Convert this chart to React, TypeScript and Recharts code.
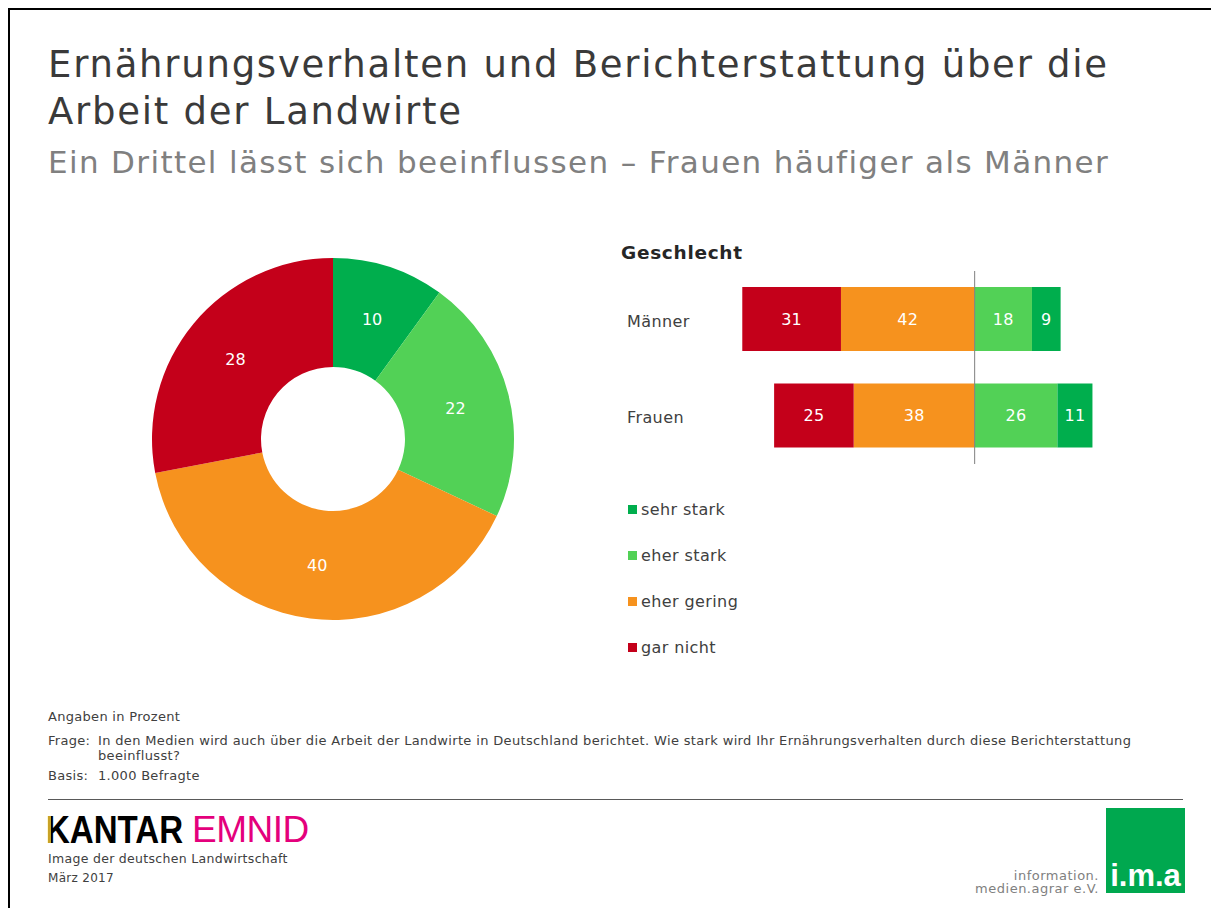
import React from "react";
import {
  PieChart,
  Pie,
  Cell,
  BarChart,
  Bar,
  XAxis,
  YAxis,
  ReferenceLine,
  LabelList,
} from "recharts";

// answer categories, in pie order (clockwise from top)
const categories = ["sehr stark", "eher stark", "eher gering", "gar nicht"];
const colors = ["#00ae4d", "#52d156", "#f6921e", "#c4001a"];

// total sample
const totalValues = [10, 22, 40, 28];

// by gender
const genders = ["Männer", "Frauen"];
const sehrStark = [9, 11];
const eherStark = [18, 26];
const eherGering = [42, 38];
const garNicht = [31, 25];

const pieData = categories.map((name, i) => ({ name, value: totalValues[i], color: colors[i] }));

// negatives go left of the zero line
const barData = genders.map((name, i) => ({
  name,
  eherGering: -eherGering[i],
  garNicht: -garNicht[i],
  eherStark: eherStark[i],
  sehrStark: sehrStark[i],
}));

const FONT = "'DejaVu Sans', Verdana, sans-serif";
const TEXT = "#404040";
const RAD = Math.PI / 180;

const PieLabel = (props: any) => {
  const { cx, cy, midAngle, innerRadius, outerRadius, value } = props;
  const r = (innerRadius + outerRadius) / 2;
  const x = cx + r * Math.cos(-midAngle * RAD);
  const y = cy + r * Math.sin(-midAngle * RAD);
  return (
    <text x={x} y={y + 1} fill="#fff" fontSize={16} fontFamily={FONT} textAnchor="middle" dominantBaseline="central">
      {value}
    </text>
  );
};

const GenderTick = (props: any) => {
  const { y, payload } = props;
  return (
    <text
      x={7}
      y={y + 2}
      fill={TEXT}
      fontSize={16}
      fontFamily={FONT}
      letterSpacing={0.4}
      dominantBaseline="central"
    >
      {payload.value}
    </text>
  );
};

const barSeries = [
  { key: "eherGering", color: colors[2] },
  { key: "garNicht", color: colors[3] },
  { key: "eherStark", color: colors[1] },
  { key: "sehrStark", color: colors[0] },
];

const abs = (v: any) => String(Math.abs(Number(v)));

const pos = (left: number, top: number): React.CSSProperties => ({ position: "absolute", left, top });

export default function App() {
  return (
    <div
      style={{
        position: "relative",
        width: 1201,
        height: 898,
        borderTop: "2px solid #000",
        borderLeft: "2px solid #000",
        overflow: "hidden",
        fontFamily: FONT,
        color: TEXT,
        background: "#fff",
      }}
    >
      <div
        style={{
          ...pos(38, 31),
          fontSize: 37,
          lineHeight: "47px",
          letterSpacing: 1.75,
          color: "#3a3a3a",
          whiteSpace: "nowrap",
        }}
      >
        Ernährungsverhalten und Berichterstattung über die
        <br />
        Arbeit der Landwirte
      </div>
      <div
        style={{
          ...pos(38, 134),
          fontSize: 31,
          lineHeight: "36px",
          letterSpacing: 1.35,
          color: "#808080",
          whiteSpace: "nowrap",
        }}
      >
        Ein Drittel lässt sich beeinflussen – Frauen häufiger als Männer
      </div>

      <div style={pos(123, 229)}>
        <PieChart width={400} height={400} margin={{ top: 0, right: 0, bottom: 0, left: 0 }}>
          <Pie
            data={pieData}
            dataKey="value"
            cx={200}
            cy={200}
            innerRadius={72}
            outerRadius={181}
            startAngle={90}
            endAngle={-270}
            stroke="none"
            label={PieLabel}
            labelLine={false}
            isAnimationActive={false}
          >
            {pieData.map((d, i) => (
              <Cell key={`c-${i}`} fill={d.color} />
            ))}
          </Pie>
        </PieChart>
      </div>

      <div
        style={{
          ...pos(611, 232),
          fontSize: 18.5,
          lineHeight: "22px",
          letterSpacing: 0.7,
          fontWeight: 700,
          color: "#262626",
        }}
      >
        Geschlecht
      </div>

      <div style={pos(610, 261)}>
        <BarChart
          width={482}
          height={193}
          data={barData}
          layout="vertical"
          stackOffset="sign"
          barSize={64}
          margin={{ top: 0, right: 0, bottom: 0, left: 0 }}
        >
          <XAxis type="number" domain={[-80, 40]} hide />
          <YAxis type="category" dataKey="name" width={100} axisLine={false} tickLine={false} tick={GenderTick} />
          {barSeries.map((s) => (
            <Bar key={s.key} dataKey={s.key} stackId="a" fill={s.color} isAnimationActive={false}>
              <LabelList
                dataKey={s.key}
                position="center"
                formatter={abs}
                style={{ fill: "#fff", fontSize: 16, fontFamily: FONT, letterSpacing: 0.3 }}
              />
            </Bar>
          ))}
          <ReferenceLine x={0} stroke="#7f7f7f" strokeWidth={1} />
        </BarChart>
      </div>

      {categories.map((c, i) => (
        <div
          key={c}
          style={{
            ...pos(618, 488 + i * 46.3),
            display: "flex",
            alignItems: "center",
            height: 22,
            fontSize: 16,
            letterSpacing: 0.4,
          }}
        >
          <span style={{ width: 9, height: 9, background: colors[i], marginRight: 4 }} />
          <span>{c}</span>
        </div>
      ))}

      <div style={{ ...pos(38, 699), fontSize: 13, lineHeight: "16px", letterSpacing: 0.3 }}>Angaben in Prozent</div>
      <div style={{ ...pos(38, 722.5), fontSize: 13, lineHeight: "15px", letterSpacing: 0.3 }}>Frage:</div>
      <div style={{ ...pos(88, 722.5), fontSize: 13, lineHeight: "15px", letterSpacing: 0.35, whiteSpace: "nowrap" }}>
        In den Medien wird auch über die Arbeit der Landwirte in Deutschland berichtet. Wie stark wird Ihr Ernährungsverhalten durch diese Berichterstattung
        <br />
        beeinflusst?
      </div>
      <div style={{ ...pos(38, 758), fontSize: 13, lineHeight: "16px", letterSpacing: 0.3 }}>Basis:</div>
      <div style={{ ...pos(88, 758), fontSize: 13, lineHeight: "16px", letterSpacing: 0.3 }}>1.000 Befragte</div>

      <div style={{ ...pos(38, 789), width: 1135, height: 1, background: "#595959" }} />

      {/* logo text: KANTAR squeezed to look condensed */}
      <div
        style={{
          ...pos(36, 801),
          fontSize: 38,
          lineHeight: "38px",
          whiteSpace: "nowrap",
          color: "#000",
          fontFamily: "'Liberation Sans', Arial, sans-serif",
          fontWeight: 700,
          transform: "scaleX(0.87)",
          transformOrigin: "left center",
        }}
      >
        KANTAR
      </div>
      <div
        style={{
          ...pos(182, 801),
          fontSize: 37,
          lineHeight: "38px",
          whiteSpace: "nowrap",
          color: "#e4007c",
          fontFamily: "'Liberation Sans', Arial, sans-serif",
          letterSpacing: -0.5,
        }}
      >
        EMNID
      </div>
      <div style={{ ...pos(38, 806), width: 3, height: 27, background: "#c9a227" }} />
      <div style={{ ...pos(38, 841), fontSize: 12.5, lineHeight: "16px", letterSpacing: 0.3 }}>
        Image der deutschen Landwirtschaft
      </div>
      <div style={{ ...pos(38, 860), fontSize: 12, lineHeight: "16px", letterSpacing: 0.3 }}>März 2017</div>

      <div
        style={{
          position: "absolute",
          right: 1201 - 1089,
          top: 859,
          fontSize: 13,
          lineHeight: "13px",
          letterSpacing: 0.5,
          color: "#808080",
          textAlign: "right",
          whiteSpace: "nowrap",
        }}
      >
        information.
        <br />
        medien.agrar e.V.
      </div>
      <div
        style={{
          ...pos(1096, 798),
          width: 79,
          height: 85,
          background: "#00a84f",
          color: "#fff",
          fontFamily: "'Liberation Sans', Arial, sans-serif",
          fontWeight: 700,
          fontSize: 31,
          display: "flex",
          alignItems: "flex-end",
          justifyContent: "center",
          lineHeight: "34px",
        }}
      >
        i.m.a
      </div>
    </div>
  );
}
